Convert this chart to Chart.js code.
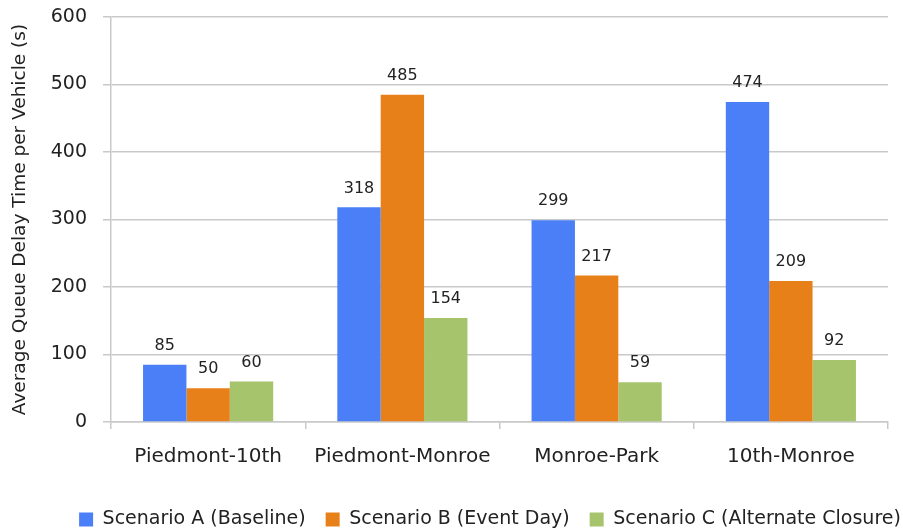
<!DOCTYPE html>
<html>
<head>
<meta charset="utf-8">
<script src="https://cdn.jsdelivr.net/npm/chart.js@4.4.1/dist/chart.umd.min.js"></script>
<style>
  html, body { margin: 0; padding: 0; background: #fff; }
  #wrap { width: 903px; height: 531px; }
</style>
</head>
<body>
<div id="wrap"><canvas id="queueChart"></canvas></div>
<script>
// Chart data
const categories = ['Piedmont-10th', 'Piedmont-Monroe', 'Monroe-Park', '10th-Monroe'];
const seriesNames = ['Scenario A (Baseline)', 'Scenario B (Event Day)', 'Scenario C (Alternate Closure)'];
const scenarioA = [85, 318, 299, 474];
const scenarioB = [50, 485, 217, 209];
const scenarioC = [60, 154, 59, 92];
const yTickValues = [0, 100, 200, 300, 400, 500, 600];

const FONT = '"DejaVu Sans", Verdana, sans-serif';
const GRID = '#c9c9c9';
const TEXT = '#222';

// draws the value above each bar
const valueLabels = {
  id: 'valueLabels',
  afterDatasetsDraw(chart) {
    const ctx = chart.ctx;
    ctx.save();
    ctx.font = '16px ' + FONT;
    ctx.fillStyle = TEXT;
    ctx.textAlign = 'center';
    ctx.textBaseline = 'middle';
    chart.data.datasets.forEach((ds, i) => {
      chart.getDatasetMeta(i).data.forEach((bar, j) => {
        ctx.fillText(String(ds.data[j]), bar.x, bar.y - 19);
      });
    });
    ctx.restore();
  }
};

// nudge the legend a bit lower and to the right, like the original
const legendShift = {
  id: 'legendShift',
  afterLayout(chart) {
    const lg = chart.legend;
    if (!lg) return;
    lg.top += 8; lg.bottom += 8;
    lg.left += 46; lg.right += 46;
  }
};

const ctx = document.getElementById('queueChart').getContext('2d');
new Chart(ctx, {
  type: 'bar',
  data: {
    labels: categories,
    datasets: [
      { label: seriesNames[0], data: scenarioA, backgroundColor: '#4a7ff8' },
      { label: seriesNames[1], data: scenarioB, backgroundColor: '#e8801a' },
      { label: seriesNames[2], data: scenarioC, backgroundColor: '#a6c46c' }
    ]
  },
  options: {
    responsive: true,
    maintainAspectRatio: false,
    animation: false,
    layout: { padding: { left: 0, right: 15, top: 17, bottom: 0 } },
    datasets: {
      bar: { categoryPercentage: 0.67, barPercentage: 1.0 }
    },
    plugins: {
      legend: {
        position: 'bottom',
        labels: {
          boxWidth: 14,
          boxHeight: 14,
          padding: 20,
          color: TEXT,
          font: { family: FONT, size: 19 }
        }
      },
      tooltip: { enabled: false }
    },
    scales: {
      x: {
        grid: { offset: true, drawOnChartArea: false, tickLength: 7, color: GRID, lineWidth: 1.5 },
        border: { color: GRID, width: 1.5 },
        ticks: { color: TEXT, font: { family: FONT, size: 20 }, padding: 16 },
        afterFit(scale) { scale.height = 60; }
      },
      y: {
        min: 0,
        max: 600,
        afterBuildTicks(scale) { scale.ticks = yTickValues.map(v => ({ value: v })); },
        grid: { color: GRID, lineWidth: 1.5, tickLength: 8 },
        border: { color: GRID, width: 1.5 },
        ticks: { color: TEXT, font: { family: FONT, size: 19 }, padding: 16 },
        title: {
          display: true,
          text: 'Average Queue Delay Time per Vehicle (s)',
          color: TEXT,
          font: { family: FONT, size: 18.5 },
          padding: { top: 9, bottom: 0 }
        },
        afterFit(scale) {
          scale.width = 111;
          scale.paddingTop = 10;
          scale.paddingBottom = 10;
        }
      }
    }
  },
  plugins: [valueLabels, legendShift]
});
</script>
</body>
</html>
